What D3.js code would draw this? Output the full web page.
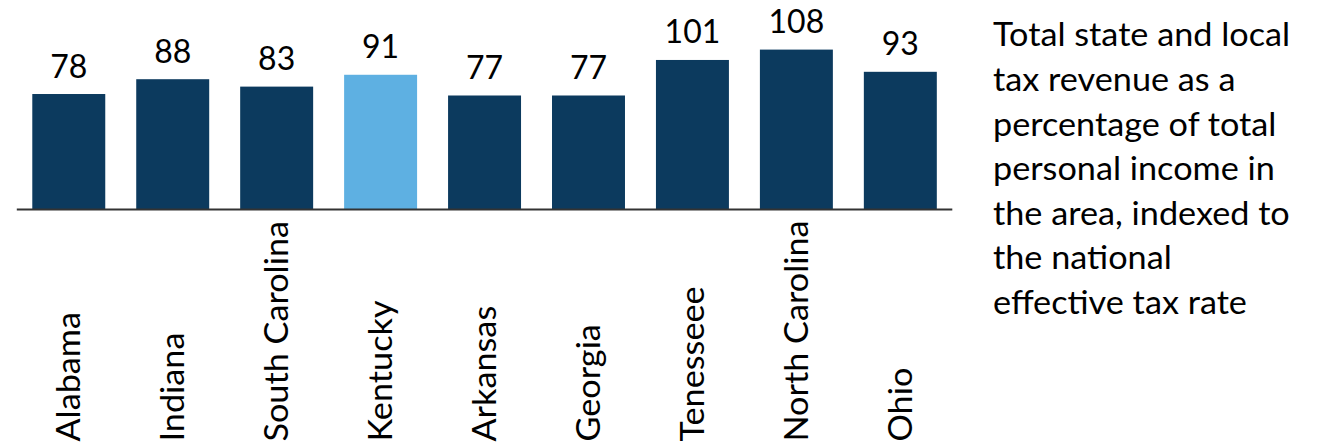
<!DOCTYPE html>
<html>
<head>
<meta charset="utf-8">
<script src="https://cdn.jsdelivr.net/npm/d3@7"></script>
<style>
  html, body { margin: 0; padding: 0; background: #fff; }
  svg { display: block; font-family: Lato, "Open Sans", sans-serif; }
</style>
</head>
<body>
<svg id="chart" width="1324" height="446"></svg>
<script>
const categories = ["Alabama", "Indiana", "South Carolina", "Kentucky", "Arkansas", "Georgia", "Tenesseee", "North Carolina", "Ohio"];
const values = [78, 88, 83, 91, 77, 77, 101, 108, 93];
const highlight = ["Kentucky"];
const noteLines = [
  "Total state and local",
  "tax revenue as a",
  "percentage of total",
  "personal income in",
  "the area, indexed to",
  "the national",
  "effective tax rate"
];

const svg = d3.select("#chart");
const baseY = 209.5;
const stretch = 1.07;

const x = d3.scaleBand()
  .domain(categories)
  .range([16.8, 952.3])
  .paddingInner(0.298)
  .paddingOuter(0.149);

const y = d3.scaleLinear()
  .domain([0, 141.5])
  .range([baseY, 0]);

const data = categories.map((c, i) => ({ c, v: values[i] }));

svg.append("g").selectAll("rect")
  .data(data)
  .join("rect")
  .attr("x", d => x(d.c))
  .attr("y", d => y(d.v))
  .attr("width", x.bandwidth())
  .attr("height", d => y(0) - y(d.v))
  .attr("fill", d => highlight.includes(d.c) ? "#5EB0E2" : "#0C3A5E");

// axis baseline
const axis = svg.append("g")
  .attr("transform", `translate(0,${baseY})`)
  .call(d3.axisBottom(x).tickSize(0).tickFormat(""));
axis.select(".domain").attr("stroke", "#333333").attr("stroke-width", 2)
  .attr("d", `M${x.range()[0]},0H${x.range()[1]}`);

// value labels
svg.append("g").selectAll("text")
  .data(data)
  .join("text")
  .attr("x", d => x(d.c) + x.bandwidth() / 2)
  .attr("y", d => y(d.v) - 16.5)
  .attr("text-anchor", "middle")
  .attr("font-size", 32)
  .attr("fill", "#000")
  .text(d => d.v);

// category labels (rotated, bottom-aligned)
svg.append("g").selectAll("text")
  .data(data)
  .join("text")
  .attr("transform", d => `translate(${x(d.c) + x.bandwidth() / 2},441.5) rotate(-90) scale(${stretch},1)`)
  .attr("dy", "0.36em")
  .attr("text-anchor", "start")
  .attr("font-size", 32)
  .attr("fill", "#000")
  .text(d => d.c);

// side note
svg.append("g")
  .attr("transform", `translate(993,0) scale(${stretch},1)`)
  .selectAll("text")
  .data(noteLines)
  .join("text")
  .attr("x", 0)
  .attr("y", (d, i) => 46.5 + i * 44.6)
  .attr("font-size", 32)
  .attr("fill", "#000")
  .text(d => d);
</script>
</body>
</html>
